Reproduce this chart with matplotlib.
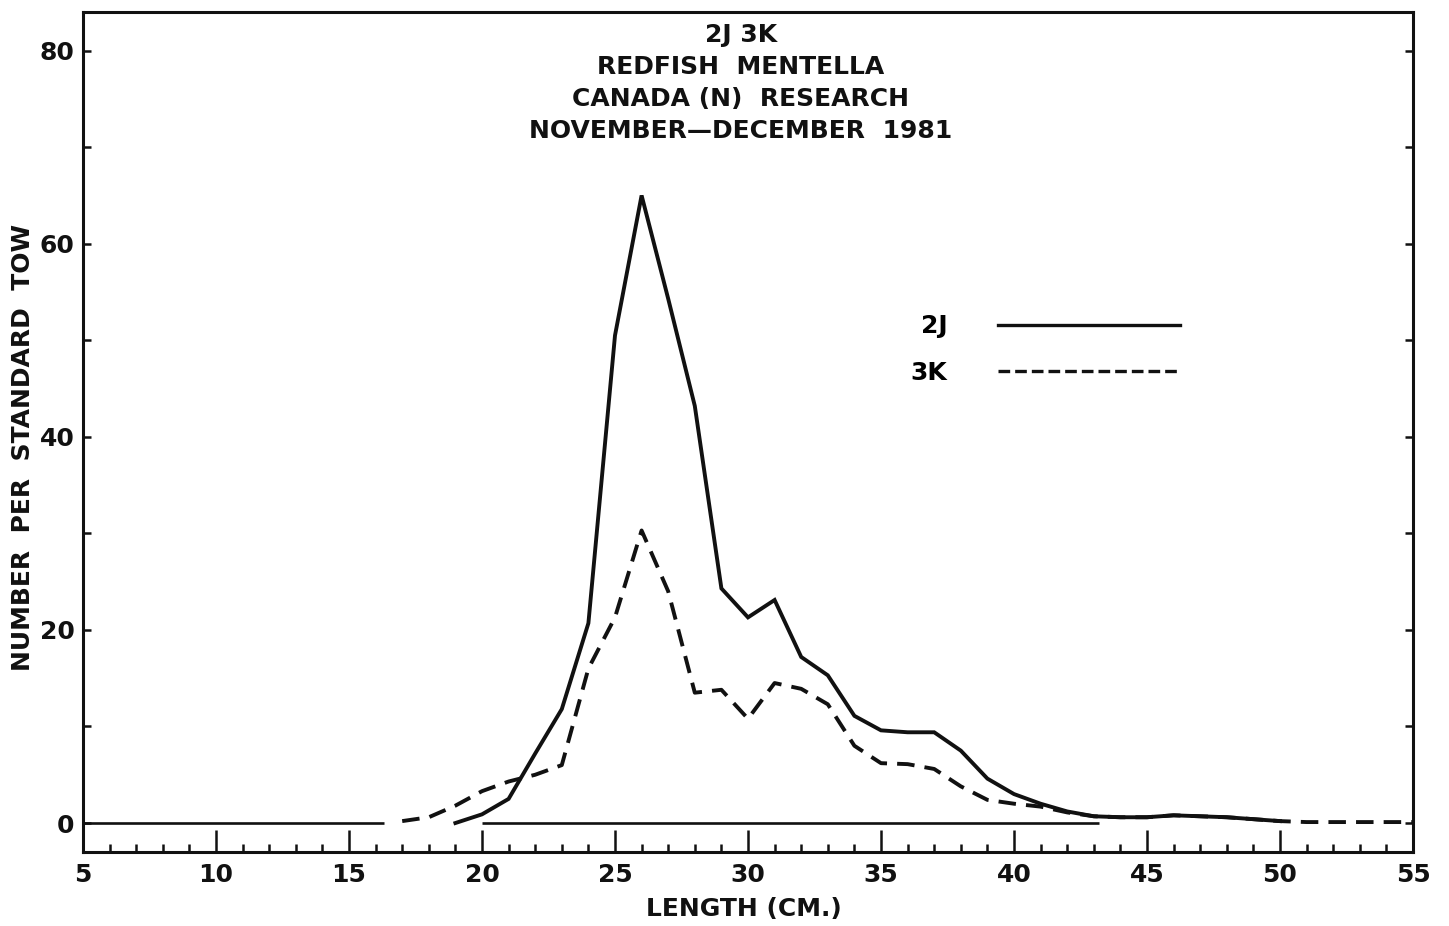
import matplotlib.pyplot as plt
from matplotlib.ticker import MultipleLocator
from matplotlib.lines import Line2D

# length classes (cm) and catch per standard tow
len_2j = [19, 20, 21, 22, 23, 24, 25, 26, 27, 28, 29, 30, 31, 32, 33, 34,
          35, 36, 37, 38, 39, 40, 41, 42, 43, 44, 45, 46, 47, 48, 49, 50]
num_2j = [0.0, 0.9, 2.5, 7.2, 11.8, 20.7, 50.5, 65.0, 54.3, 43.2, 24.3, 21.3,
          23.1, 17.2, 15.3, 11.1, 9.6, 9.4, 9.4, 7.5, 4.6, 3.0, 2.0, 1.2,
          0.7, 0.6, 0.6, 0.8, 0.7, 0.6, 0.4, 0.2]

len_3k = [17, 18, 19, 20, 21, 22, 23, 24, 25, 26, 27, 28, 29, 30, 31, 32,
          33, 34, 35, 36, 37, 38, 39, 40, 41, 42, 43, 44, 45, 46, 47, 48,
          49, 50, 51, 52, 53, 54, 55]
num_3k = [0.2, 0.6, 1.8, 3.3, 4.3, 5.0, 6.0, 16.0, 21.3, 30.3, 24.0, 13.5,
          13.8, 10.8, 14.5, 13.9, 12.3, 8.0, 6.2, 6.1, 5.6, 3.8, 2.4, 2.0,
          1.7, 1.1, 0.7, 0.6, 0.6, 0.8, 0.7, 0.6, 0.4, 0.2, 0.1, 0.1, 0.1,
          0.1, 0.1]

# pieces of the zero baseline that are drawn in the original
baseline_segments = [(5, 16.3), (20, 43.2)]

title_lines = ["2J 3K", "REDFISH  MENTELLA", "CANADA (N)  RESEARCH",
               "NOVEMBER\u2014DECEMBER  1981"]
series_labels = ["2J", "3K"]

plt.rcParams['font.family'] = ['DejaVu Sans']
plt.rcParams['font.weight'] = 'bold'
plt.rcParams['axes.labelweight'] = 'bold'

fig = plt.figure(figsize=(14.49, 9.26), dpi=100)
ax = fig.add_axes([83/1449, 1 - 852/926, 1330/1449, 840/926])

ink = '#111111'
lw = 2.8
dash = (4.5, 2.6)

for x0, x1 in baseline_segments:
    ax.plot([x0, x1], [0, 0], color=ink, lw=1.9, solid_capstyle='butt')

ax.plot(len_2j, num_2j, color=ink, lw=lw, solid_joinstyle='miter')
ax.plot(len_3k, num_3k, color=ink, lw=lw, linestyle=(0, dash))

ax.set_xlim(5, 55)
ax.set_ylim(-3, 84)

ax.xaxis.set_major_locator(MultipleLocator(5))
ax.xaxis.set_minor_locator(MultipleLocator(1))
ax.yaxis.set_major_locator(MultipleLocator(20))
ax.yaxis.set_minor_locator(MultipleLocator(10))

ax.tick_params(axis='x', which='major', direction='in', length=16, width=1.8,
               labelsize=18, pad=8, colors=ink)
ax.tick_params(axis='x', which='minor', direction='in', length=6, width=1.8,
               colors=ink)
ax.tick_params(axis='y', which='both', direction='in', length=6, width=1.8,
               right=True, labelsize=18, pad=6, colors=ink)

for s in ax.spines.values():
    s.set_linewidth(2.2)
    s.set_color(ink)

for i, line in enumerate(title_lines):
    ax.text(0.4947, 0.9726 - i * 0.0381, line, transform=ax.transAxes,
            ha='center', va='center', fontsize=18, color=ink)

ax.set_xlabel("LENGTH (CM.)", fontsize=18, color=ink)
ax.xaxis.set_label_coords(0.497, -0.053)
ax.set_ylabel("NUMBER  PER  STANDARD  TOW", fontsize=18, color=ink)
ax.yaxis.set_label_coords(-0.036, 0.482)

handles = [Line2D([], [], color=ink, lw=2.4),
           Line2D([], [], color=ink, lw=2.4, linestyle=(0, (3.5, 1.5)))]
ax.legend(handles, series_labels, loc='upper left',
          bbox_to_anchor=(0.613, 0.655), frameon=False, markerfirst=False,
          handlelength=7.3, handletextpad=2.0, labelspacing=0.9,
          borderpad=0, prop={'size': 18, 'weight': 'bold'})

fig.savefig("out.png", dpi=100)
